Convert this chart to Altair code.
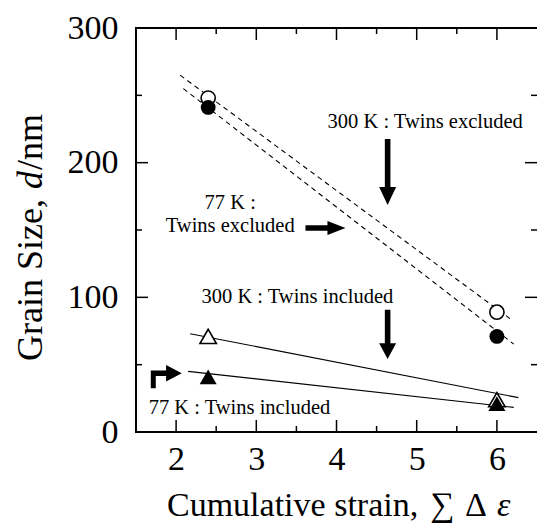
import altair as alt
import pandas as pd

FONT = "Liberation Serif"

# ---- measured data ----
strain = [2.4, 6.0]
d_300K_excl = [248, 89]   # open circles
d_77K_excl = [241, 71]    # filled circles
d_300K_incl = [71, 24]    # open triangles
d_77K_incl = [41, 21]     # filled triangles

# guide lines (end points as drawn)
l_300K_excl_x = [2.05, 6.175]
l_300K_excl_y = [265, 83.7]
l_77K_excl_x = [2.09, 6.21]
l_77K_excl_y = [255, 65.3]
l_300K_incl_x = [2.175, 6.267]
l_300K_incl_y = [73, 25.5]
l_77K_incl_x = [2.15, 6.21]
l_77K_incl_y = [45, 18.3]

x_major = [2, 3, 4, 5, 6]
x_minor = [2.5, 3.5, 4.5, 5.5]
y_major = [100, 200]
y_minor = [50, 150, 250]
y_labels = [0, 100, 200, 300]

ann_text = ["300 K : Twins excluded", "77 K :", "Twins excluded",
            "300 K : Twins included", "77 K : Twins included"]
ann_x = [5.106, 2.675, 2.675, 3.5125, 2.79]
ann_y = [230.2, 170, 153, 100.6, 17.8]

arrow_x = [4.6375, 4.6375, 3.8625, 1.875]
arrow_y = [193.1, 72.5, 151.5, 40.5]

# ---- layout ----
W, H = 401, 404
xs = alt.Scale(domain=[1.5, 6.5], nice=False, zero=False)
ys = alt.Scale(domain=[0, 300], nice=False, zero=False)

x_axis = alt.Axis(values=x_major, format="d", ticks=False, tickSize=0, domain=False,
                  grid=False, labelFont=FONT, labelFontSize=34, labelPadding=10,
                  labelColor="black", labelOverlap=False, title=None)
y_axis = alt.Axis(values=y_labels, format="d", ticks=False, tickSize=0, domain=False,
                  grid=False, labelFont=FONT, labelFontSize=34, labelPadding=18,
                  labelColor="black", labelOverlap=False, title=None)

X = alt.X("x:Q", scale=xs, axis=x_axis, title=None)
Y = alt.Y("y:Q", scale=ys, axis=y_axis, title=None)


def df(xv, yv, **extra):
    d = pd.DataFrame({"x": xv, "y": yv})
    for k, v in extra.items():
        d[k] = v
    return d


layers = []

# guide lines
for lx, ly, dash in [(l_300K_excl_x, l_300K_excl_y, [5, 4]),
                     (l_77K_excl_x, l_77K_excl_y, [5, 4]),
                     (l_300K_incl_x, l_300K_incl_y, None),
                     (l_77K_incl_x, l_77K_incl_y, None)]:
    kw = dict(color="black", strokeWidth=1.1)
    if dash:
        kw["strokeDash"] = dash
    layers.append(alt.Chart(df(lx, ly)).mark_line(**kw).encode(x=X, y=Y))

# markers
layers.append(alt.Chart(df(strain, d_300K_excl)).mark_point(
    shape="circle", size=200, filled=True, fill="white", stroke="black",
    strokeWidth=1.6, opacity=1).encode(x=X, y=Y))
layers.append(alt.Chart(df(strain, d_77K_excl)).mark_point(
    shape="circle", size=220, filled=True, color="black", opacity=1).encode(x=X, y=Y))
layers.append(alt.Chart(df(strain, d_300K_incl)).mark_point(
    shape="triangle-up", size=270, filled=True, fill="white", stroke="black",
    strokeWidth=1.6, opacity=1).encode(x=X, y=Y))
layers.append(alt.Chart(df(strain, d_77K_incl)).mark_point(
    shape="triangle-up", size=290, filled=True, color="black", opacity=1).encode(x=X, y=Y))

# inward ticks
TL, TS = 12, 6
for vals, ln in [(x_major, TL), (x_minor, TS)]:
    d = df(vals, [0] * len(vals))
    layers.append(alt.Chart(d).mark_rule(color="black", strokeWidth=1.5).encode(
        x=X, y=alt.value(H), y2=alt.value(H - ln)))
    layers.append(alt.Chart(d).mark_rule(color="black", strokeWidth=1.5).encode(
        x=X, y=alt.value(0), y2=alt.value(ln)))
for vals, ln in [(y_major, TL), (y_minor, TS)]:
    d = df([2] * len(vals), vals)
    layers.append(alt.Chart(d).mark_rule(color="black", strokeWidth=1.5).encode(
        y=Y, x=alt.value(0), x2=alt.value(ln)))
    layers.append(alt.Chart(d).mark_rule(color="black", strokeWidth=1.5).encode(
        y=Y, x=alt.value(W), x2=alt.value(W - ln)))

# frame (right edge falls outside the picture)
one = pd.DataFrame({"a": [0]})
layers.append(alt.Chart(one).mark_rule(color="black", strokeWidth=2).encode(
    x=alt.value(0), x2=alt.value(W + 2), y=alt.value(0)))
layers.append(alt.Chart(one).mark_rule(color="black", strokeWidth=2).encode(
    x=alt.value(0), x2=alt.value(W + 2), y=alt.value(H)))
layers.append(alt.Chart(one).mark_rule(color="black", strokeWidth=2).encode(
    x=alt.value(0), y=alt.value(-1), y2=alt.value(H + 1)))

# annotation texts
layers.append(alt.Chart(df(ann_x, ann_y, t=ann_text)).mark_text(
    font=FONT, fontSize=20.5, color="black", align="center", baseline="middle"
).encode(x=X, y=Y, text="t:N"))


# arrows as custom symbol paths (pixel units / 40, symbol size 6400 -> 40 px per unit)
def path(pts):
    return "M " + " L ".join(f"{px / 40:.4f} {py / 40:.4f}" for px, py in pts) + " Z"


arrow_shapes = [
    path([(-2.8, -33), (2.8, -33), (2.8, 15), (8.5, 15), (0, 33), (-8.5, 15), (-2.8, 15)]),
    path([(-2.8, -24.7), (2.8, -24.7), (2.8, 9), (8.5, 9), (0, 24.7), (-8.5, 9), (-2.8, 9)]),
    path([(-20, -2.7), (2, -2.7), (2, -7), (20, 0), (2, 7), (2, 2.7), (-20, 2.7)]),
    path([(-15.3, -7), (0, -7), (0, -12.5), (15.7, -4.25), (0, 4), (0, -1.5),
          (-10.3, -1.5), (-10.3, 10.8), (-15.3, 10.8)]),
]
for ax_, ay_, shp in zip(arrow_x, arrow_y, arrow_shapes):
    layers.append(alt.Chart(df([ax_], [ay_])).mark_point(
        shape=shp, size=6400, filled=True, color="black", opacity=1, strokeWidth=0
    ).encode(x=X, y=Y))

# axis titles (pieces so that the symbols can be italic)
XF, YF = 34, 36
BX = 516 - 28
layers.append(alt.Chart(one).mark_text(text="Cumulative strain,", font=FONT, fontSize=XF,
                                       align="left", baseline="alphabetic", color="black")
              .encode(x=alt.value(167 - 136), y=alt.value(BX)))
layers.append(alt.Chart(one).mark_text(text="\u2211", font=FONT, fontSize=XF,
                                       align="left", baseline="alphabetic", color="black")
              .encode(x=alt.value(430 - 136), y=alt.value(BX)))
layers.append(alt.Chart(one).mark_text(text="\u0394", font=FONT, fontSize=XF,
                                       align="left", baseline="alphabetic", color="black")
              .encode(x=alt.value(465 - 136), y=alt.value(BX)))
layers.append(alt.Chart(one).mark_text(text="\u03b5", font=FONT, fontSize=XF, fontStyle="italic",
                                       align="left", baseline="alphabetic", color="black")
              .encode(x=alt.value(497 - 136), y=alt.value(BX)))

BY = 42 - 136
layers.append(alt.Chart(one).mark_text(text="Grain Size,", font=FONT, fontSize=YF, angle=270,
                                       align="left", baseline="alphabetic", color="black")
              .encode(x=alt.value(BY), y=alt.value(361 - 28)))
layers.append(alt.Chart(one).mark_text(text="d", font=FONT, fontSize=YF, angle=270, fontStyle="italic",
                                       align="left", baseline="alphabetic", color="black")
              .encode(x=alt.value(BY), y=alt.value(189 - 28)))
layers.append(alt.Chart(one).mark_text(text="/nm", font=FONT, fontSize=YF, angle=270,
                                       align="left", baseline="alphabetic", color="black")
              .encode(x=alt.value(BY), y=alt.value(170 - 28)))

chart = alt.layer(*layers).properties(
    width=W, height=H,
    autosize=alt.AutoSizeParams(type="none"),
    padding={"left": 136, "top": 28, "right": 0, "bottom": 100},
    background="white",
).configure_view(stroke=None)

chart.save("out.html", embed_options={"renderer": "svg", "actions": False})
